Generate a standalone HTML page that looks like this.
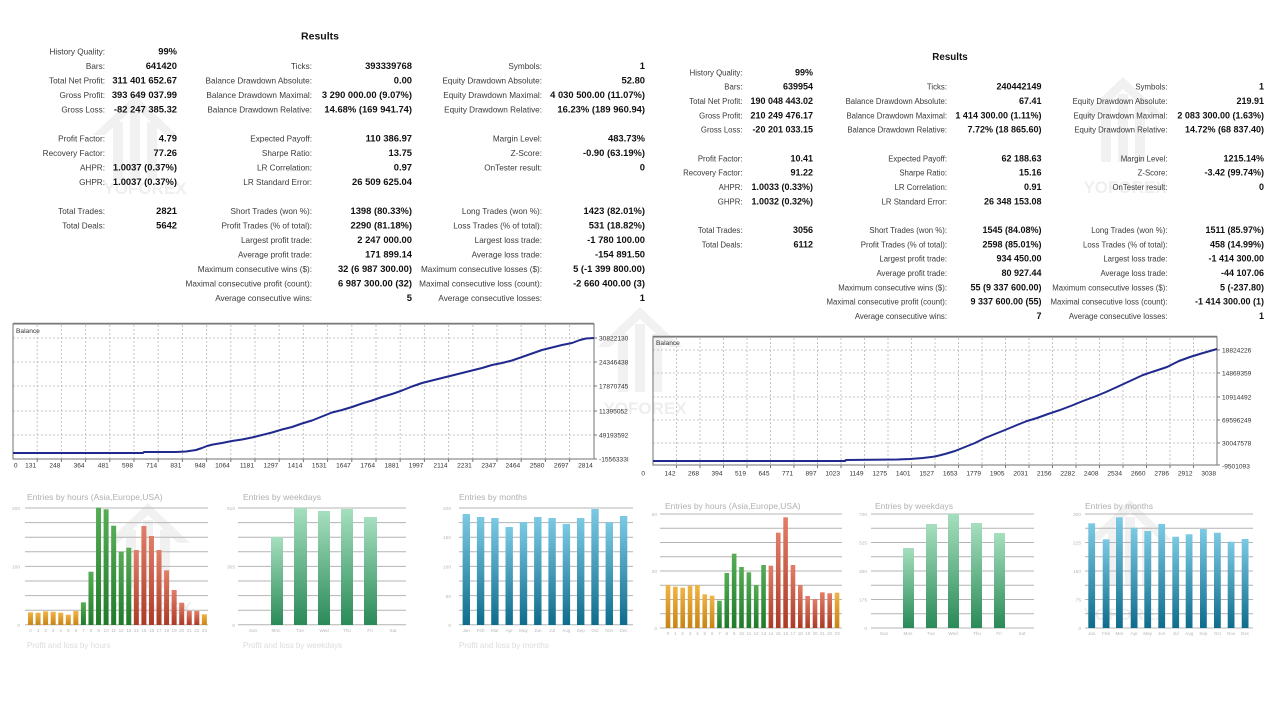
<!DOCTYPE html>
<html><head><meta charset="utf-8"><style>
html,body{margin:0;padding:0;background:#fff;}
svg{display:block;}
text{font-family:"Liberation Sans",Arial,sans-serif;}
.l{font-size:8.2px;fill:#3a3a3a;text-anchor:end;}
.v{font-size:9.4px;font-weight:bold;fill:#111;text-anchor:end;}
.l2{font-size:7.8px;fill:#3a3a3a;text-anchor:end;}
.v2{font-size:9px;font-weight:bold;fill:#111;text-anchor:end;}
.ttl{font-weight:bold;fill:#111;text-anchor:middle;}
.ax{font-size:6.6px;fill:#333;}
.axe{font-size:6.6px;fill:#333;text-anchor:end;}
.bt{font-size:8.5px;fill:#b0b0b0;}
.bl{font-size:4.6px;fill:#b8b8b8;text-anchor:middle;}
.by{font-size:4.8px;fill:#b8b8b8;text-anchor:end;}
.wm{font-size:17px;font-weight:bold;fill:#999;opacity:.16;text-anchor:middle;}
</style></head><body>
<svg width="1280" height="720" viewBox="0 0 1280 720" xmlns="http://www.w3.org/2000/svg">
<defs>
<linearGradient id="gOr" x1="0" y1="0" x2="0" y2="1"><stop offset="0" stop-color="#f0b445"/><stop offset="1" stop-color="#c88414"/></linearGradient>
<linearGradient id="gGr" x1="0" y1="0" x2="0" y2="1"><stop offset="0" stop-color="#56ad56"/><stop offset="1" stop-color="#1f7a2a"/></linearGradient>
<linearGradient id="gRd" x1="0" y1="0" x2="0" y2="1"><stop offset="0" stop-color="#e27e68"/><stop offset="1" stop-color="#ad3a26"/></linearGradient>
<linearGradient id="gWk" x1="0" y1="0" x2="0" y2="1"><stop offset="0" stop-color="#a6dfbf"/><stop offset="1" stop-color="#2a8a58"/></linearGradient>
<linearGradient id="gMo" x1="0" y1="0" x2="0" y2="1"><stop offset="0" stop-color="#7ccae4"/><stop offset="1" stop-color="#0e6c8c"/></linearGradient>
</defs>
<rect width="1280" height="720" fill="#fff"/>

<!-- watermarks -->
<g fill="#999" opacity=".14">
<g transform="translate(135,140)"><polygon points="0,-45 42,-5 30,-5 0,-33 -30,-5 -42,-5"/><rect x="-22" y="-18" width="10" height="58"/><rect x="-5" y="-28" width="10" height="68"/><rect x="12" y="-18" width="10" height="58"/></g>
<g transform="translate(640,352)"><polygon points="0,-45 42,-5 30,-5 0,-33 -30,-5 -42,-5"/><rect x="-22" y="-18" width="10" height="58"/><rect x="-5" y="-28" width="10" height="68"/><rect x="12" y="-18" width="10" height="58"/></g>
<g transform="translate(1123,122)"><polygon points="0,-45 42,-5 30,-5 0,-33 -30,-5 -42,-5"/><rect x="-22" y="-18" width="10" height="58"/><rect x="-5" y="-28" width="10" height="68"/><rect x="12" y="-18" width="10" height="58"/></g>
<g transform="translate(148,548)"><polygon points="0,-45 42,-5 30,-5 0,-33 -30,-5 -42,-5"/><rect x="-22" y="-18" width="10" height="58"/><rect x="-5" y="-28" width="10" height="68"/><rect x="12" y="-18" width="10" height="58"/></g>
<g transform="translate(1130,545)"><polygon points="0,-45 42,-5 30,-5 0,-33 -30,-5 -42,-5"/><rect x="-22" y="-18" width="10" height="58"/><rect x="-5" y="-28" width="10" height="68"/><rect x="12" y="-18" width="10" height="58"/></g>
</g>
<text class="wm" x="145" y="194">YOFOREX</text>
<text class="wm" x="645" y="414">YOFOREX</text>
<text class="wm" x="1125" y="193">YOFOREX</text>
<text class="wm" x="150" y="614">YOFOREX</text>
<text class="wm" x="1125" y="620">YOFOREX</text>

<!-- LEFT RESULTS -->
<text class="ttl" x="320" y="39.5" font-size="10.5">Results</text>
<text class="l" x="105" y="54.7">History Quality:</text><text class="v" x="177" y="54.7">99%</text>
<text class="l" x="105" y="69.2">Bars:</text><text class="v" x="177" y="69.2">641420</text>
<text class="l" x="105" y="83.7">Total Net Profit:</text><text class="v" x="177" y="83.7">311 401 652.67</text>
<text class="l" x="105" y="98.2">Gross Profit:</text><text class="v" x="177" y="98.2">393 649 037.99</text>
<text class="l" x="105" y="112.7">Gross Loss:</text><text class="v" x="177" y="112.7">-82 247 385.32</text>
<text class="l" x="105" y="141.7">Profit Factor:</text><text class="v" x="177" y="141.7">4.79</text>
<text class="l" x="105" y="156.2">Recovery Factor:</text><text class="v" x="177" y="156.2">77.26</text>
<text class="l" x="105" y="170.7">AHPR:</text><text class="v" x="177" y="170.7">1.0037 (0.37%)</text>
<text class="l" x="105" y="185.2">GHPR:</text><text class="v" x="177" y="185.2">1.0037 (0.37%)</text>
<text class="l" x="105" y="214.2">Total Trades:</text><text class="v" x="177" y="214.2">2821</text>
<text class="l" x="105" y="228.7">Total Deals:</text><text class="v" x="177" y="228.7">5642</text>

<text class="l" x="312" y="69.2">Ticks:</text><text class="v" x="412" y="69.2">393339768</text>
<text class="l" x="312" y="83.7">Balance Drawdown Absolute:</text><text class="v" x="412" y="83.7">0.00</text>
<text class="l" x="312" y="98.2">Balance Drawdown Maximal:</text><text class="v" x="412" y="98.2">3 290 000.00 (9.07%)</text>
<text class="l" x="312" y="112.7">Balance Drawdown Relative:</text><text class="v" x="412" y="112.7">14.68% (169 941.74)</text>
<text class="l" x="312" y="141.7">Expected Payoff:</text><text class="v" x="412" y="141.7">110 386.97</text>
<text class="l" x="312" y="156.2">Sharpe Ratio:</text><text class="v" x="412" y="156.2">13.75</text>
<text class="l" x="312" y="170.7">LR Correlation:</text><text class="v" x="412" y="170.7">0.97</text>
<text class="l" x="312" y="185.2">LR Standard Error:</text><text class="v" x="412" y="185.2">26 509 625.04</text>
<text class="l" x="312" y="214.2">Short Trades (won %):</text><text class="v" x="412" y="214.2">1398 (80.33%)</text>
<text class="l" x="312" y="228.7">Profit Trades (% of total):</text><text class="v" x="412" y="228.7">2290 (81.18%)</text>
<text class="l" x="312" y="243.2">Largest profit trade:</text><text class="v" x="412" y="243.2">2 247 000.00</text>
<text class="l" x="312" y="257.7">Average profit trade:</text><text class="v" x="412" y="257.7">171 899.14</text>
<text class="l" x="312" y="272.2">Maximum consecutive wins ($):</text><text class="v" x="412" y="272.2">32 (6 987 300.00)</text>
<text class="l" x="312" y="286.7">Maximal consecutive profit (count):</text><text class="v" x="412" y="286.7">6 987 300.00 (32)</text>
<text class="l" x="312" y="301.2">Average consecutive wins:</text><text class="v" x="412" y="301.2">5</text>

<text class="l" x="542" y="69.2">Symbols:</text><text class="v" x="645" y="69.2">1</text>
<text class="l" x="542" y="83.7">Equity Drawdown Absolute:</text><text class="v" x="645" y="83.7">52.80</text>
<text class="l" x="542" y="98.2">Equity Drawdown Maximal:</text><text class="v" x="645" y="98.2">4 030 500.00 (11.07%)</text>
<text class="l" x="542" y="112.7">Equity Drawdown Relative:</text><text class="v" x="645" y="112.7">16.23% (189 960.94)</text>
<text class="l" x="542" y="141.7">Margin Level:</text><text class="v" x="645" y="141.7">483.73%</text>
<text class="l" x="542" y="156.2">Z-Score:</text><text class="v" x="645" y="156.2">-0.90 (63.19%)</text>
<text class="l" x="542" y="170.7">OnTester result:</text><text class="v" x="645" y="170.7">0</text>
<text class="l" x="542" y="214.2">Long Trades (won %):</text><text class="v" x="645" y="214.2">1423 (82.01%)</text>
<text class="l" x="542" y="228.7">Loss Trades (% of total):</text><text class="v" x="645" y="228.7">531 (18.82%)</text>
<text class="l" x="542" y="243.2">Largest loss trade:</text><text class="v" x="645" y="243.2">-1 780 100.00</text>
<text class="l" x="542" y="257.7">Average loss trade:</text><text class="v" x="645" y="257.7">-154 891.50</text>
<text class="l" x="542" y="272.2">Maximum consecutive losses ($):</text><text class="v" x="645" y="272.2">5 (-1 399 800.00)</text>
<text class="l" x="542" y="286.7">Maximal consecutive loss (count):</text><text class="v" x="645" y="286.7">-2 660 400.00 (3)</text>
<text class="l" x="542" y="301.2">Average consecutive losses:</text><text class="v" x="645" y="301.2">1</text>

<!-- RIGHT RESULTS -->
<text class="ttl" x="950" y="60" font-size="9.8">Results</text>
<text class="l2" x="742.5" y="75.3">History Quality:</text><text class="v2" x="813" y="75.3">99%</text>
<text class="l2" x="742.5" y="89.6">Bars:</text><text class="v2" x="813" y="89.6">639954</text>
<text class="l2" x="742.5" y="104">Total Net Profit:</text><text class="v2" x="813" y="104">190 048 443.02</text>
<text class="l2" x="742.5" y="118.3">Gross Profit:</text><text class="v2" x="813" y="118.3">210 249 476.17</text>
<text class="l2" x="742.5" y="132.6">Gross Loss:</text><text class="v2" x="813" y="132.6">-20 201 033.15</text>
<text class="l2" x="742.5" y="161.3">Profit Factor:</text><text class="v2" x="813" y="161.3">10.41</text>
<text class="l2" x="742.5" y="175.6">Recovery Factor:</text><text class="v2" x="813" y="175.6">91.22</text>
<text class="l2" x="742.5" y="189.9">AHPR:</text><text class="v2" x="813" y="189.9">1.0033 (0.33%)</text>
<text class="l2" x="742.5" y="204.3">GHPR:</text><text class="v2" x="813" y="204.3">1.0032 (0.32%)</text>
<text class="l2" x="742.5" y="232.9">Total Trades:</text><text class="v2" x="813" y="232.9">3056</text>
<text class="l2" x="742.5" y="247.3">Total Deals:</text><text class="v2" x="813" y="247.3">6112</text>

<text class="l2" x="947" y="89.6">Ticks:</text><text class="v2" x="1041.5" y="89.6">240442149</text>
<text class="l2" x="947" y="104">Balance Drawdown Absolute:</text><text class="v2" x="1041.5" y="104">67.41</text>
<text class="l2" x="947" y="118.3">Balance Drawdown Maximal:</text><text class="v2" x="1041.5" y="118.3">1 414 300.00 (1.11%)</text>
<text class="l2" x="947" y="132.6">Balance Drawdown Relative:</text><text class="v2" x="1041.5" y="132.6">7.72% (18 865.60)</text>
<text class="l2" x="947" y="161.3">Expected Payoff:</text><text class="v2" x="1041.5" y="161.3">62 188.63</text>
<text class="l2" x="947" y="175.6">Sharpe Ratio:</text><text class="v2" x="1041.5" y="175.6">15.16</text>
<text class="l2" x="947" y="189.9">LR Correlation:</text><text class="v2" x="1041.5" y="189.9">0.91</text>
<text class="l2" x="947" y="204.3">LR Standard Error:</text><text class="v2" x="1041.5" y="204.3">26 348 153.08</text>
<text class="l2" x="947" y="232.9">Short Trades (won %):</text><text class="v2" x="1041.5" y="232.9">1545 (84.08%)</text>
<text class="l2" x="947" y="247.3">Profit Trades (% of total):</text><text class="v2" x="1041.5" y="247.3">2598 (85.01%)</text>
<text class="l2" x="947" y="261.6">Largest profit trade:</text><text class="v2" x="1041.5" y="261.6">934 450.00</text>
<text class="l2" x="947" y="275.9">Average profit trade:</text><text class="v2" x="1041.5" y="275.9">80 927.44</text>
<text class="l2" x="947" y="290.3">Maximum consecutive wins ($):</text><text class="v2" x="1041.5" y="290.3">55 (9 337 600.00)</text>
<text class="l2" x="947" y="304.6">Maximal consecutive profit (count):</text><text class="v2" x="1041.5" y="304.6">9 337 600.00 (55)</text>
<text class="l2" x="947" y="318.9">Average consecutive wins:</text><text class="v2" x="1041.5" y="318.9">7</text>

<text class="l2" x="1167.5" y="89.6">Symbols:</text><text class="v2" x="1264" y="89.6">1</text>
<text class="l2" x="1167.5" y="104">Equity Drawdown Absolute:</text><text class="v2" x="1264" y="104">219.91</text>
<text class="l2" x="1167.5" y="118.3">Equity Drawdown Maximal:</text><text class="v2" x="1264" y="118.3">2 083 300.00 (1.63%)</text>
<text class="l2" x="1167.5" y="132.6">Equity Drawdown Relative:</text><text class="v2" x="1264" y="132.6">14.72% (68 837.40)</text>
<text class="l2" x="1167.5" y="161.3">Margin Level:</text><text class="v2" x="1264" y="161.3">1215.14%</text>
<text class="l2" x="1167.5" y="175.6">Z-Score:</text><text class="v2" x="1264" y="175.6">-3.42 (99.74%)</text>
<text class="l2" x="1167.5" y="189.9">OnTester result:</text><text class="v2" x="1264" y="189.9">0</text>
<text class="l2" x="1167.5" y="232.9">Long Trades (won %):</text><text class="v2" x="1264" y="232.9">1511 (85.97%)</text>
<text class="l2" x="1167.5" y="247.3">Loss Trades (% of total):</text><text class="v2" x="1264" y="247.3">458 (14.99%)</text>
<text class="l2" x="1167.5" y="261.6">Largest loss trade:</text><text class="v2" x="1264" y="261.6">-1 414 300.00</text>
<text class="l2" x="1167.5" y="275.9">Average loss trade:</text><text class="v2" x="1264" y="275.9">-44 107.06</text>
<text class="l2" x="1167.5" y="290.3">Maximum consecutive losses ($):</text><text class="v2" x="1264" y="290.3">5 (-237.80)</text>
<text class="l2" x="1167.5" y="304.6">Maximal consecutive loss (count):</text><text class="v2" x="1264" y="304.6">-1 414 300.00 (1)</text>
<text class="l2" x="1167.5" y="318.9">Average consecutive losses:</text><text class="v2" x="1264" y="318.9">1</text>

<!-- LEFT BALANCE CHART -->
<g>
<path d="M13 338H594M13 362H594M13 386H594M13 411H594M13 435H594" stroke="#c4c4c4" stroke-width="1" stroke-dasharray="2,2" fill="none"/>
<path d="M37.2 325V459M61.4 325V459M85.6 325V459M109.8 325V459M134 325V459M158.2 325V459M182.4 325V459M206.6 325V459M230.8 325V459M255 325V459M279.2 325V459M303.4 325V459M327.6 325V459M351.8 325V459M376 325V459M400.2 325V459M424.4 325V459M448.6 325V459M472.8 325V459M497 325V459M521.2 325V459M545.4 325V459M569.6 325V459" stroke="#c4c4c4" stroke-width="1" stroke-dasharray="2,2" fill="none"/>
<rect x="13" y="324" width="581" height="135" fill="none" stroke="#8a8a8a" stroke-width="1.2"/>
<line x1="13" y1="323.5" x2="594" y2="323.5" stroke="#7a7a7a" stroke-width="1.5"/>
<path d="M37.2 459v3M61.4 459v3M85.6 459v3M109.8 459v3M134 459v3M158.2 459v3M182.4 459v3M206.6 459v3M230.8 459v3M255 459v3M279.2 459v3M303.4 459v3M327.6 459v3M351.8 459v3M376 459v3M400.2 459v3M424.4 459v3M448.6 459v3M472.8 459v3M497 459v3M521.2 459v3M545.4 459v3M569.6 459v3M594 338h3M594 362h3M594 386h3M594 411h3M594 435h3M594 459h3" stroke="#777" stroke-width="1"/>
<polyline fill="none" stroke="#202a8e" stroke-width="2" stroke-linejoin="round" points="13,453 143,453 144,452 176,452 186,451.5 196,450 202,448 207,446 213,444.5 222,443 232,441 242,439.5 252,437.5 262,435 272,432.5 282,429.5 292,427 302,423.5 312,420.5 322,416.5 332,412.5 342,410 352,407 362,403.5 372,400.5 382,397 392,394 402,390.5 412,386.5 422,383 432,380.5 442,378 452,375.5 462,373 472,370.5 482,368 492,365 502,363 512,360.5 522,357 532,353.5 542,350 552,347.5 562,345 572,343 580,340 586,338.5 594,338"/>
<text class="ax" x="16" y="333" font-size="6.2">Balance</text>
<text class="ax" x="599" y="340.5">30822130</text>
<text class="ax" x="599" y="364.5">24346438</text>
<text class="ax" x="599" y="388.5">17870745</text>
<text class="ax" x="599" y="413.5">11395052</text>
<text class="ax" x="599" y="437.5">49193592</text>
<text class="ax" x="599" y="461.5">-1556333I</text>
<text class="axe" y="467.5"><tspan x="17.5">0</tspan><tspan x="36.2">131</tspan><tspan x="60.4">248</tspan><tspan x="84.6">364</tspan><tspan x="108.8">481</tspan><tspan x="133">598</tspan><tspan x="157.2">714</tspan><tspan x="181.4">831</tspan><tspan x="205.6">948</tspan><tspan x="229.8">1064</tspan><tspan x="254">1181</tspan><tspan x="278.2">1297</tspan><tspan x="302.4">1414</tspan><tspan x="326.6">1531</tspan><tspan x="350.8">1647</tspan><tspan x="375">1764</tspan><tspan x="399.2">1881</tspan><tspan x="423.4">1997</tspan><tspan x="447.6">2114</tspan><tspan x="471.8">2231</tspan><tspan x="496">2347</tspan><tspan x="520.2">2464</tspan><tspan x="544.4">2580</tspan><tspan x="568.6">2697</tspan><tspan x="592.8">2814</tspan></text>
</g>

<!-- RIGHT BALANCE CHART -->
<g>
<path d="M653 350H1217M653 373H1217M653 397H1217M653 420H1217M653 443H1217" stroke="#c4c4c4" stroke-width="1" stroke-dasharray="2,2" fill="none"/>
<path d="M676.5 338V465M700 338V465M723.5 338V465M747 338V465M770.5 338V465M794 338V465M817.5 338V465M841 338V465M864.5 338V465M888 338V465M911.5 338V465M935 338V465M958.5 338V465M982 338V465M1005.5 338V465M1029 338V465M1052.5 338V465M1076 338V465M1099.5 338V465M1123 338V465M1146.5 338V465M1170 338V465M1193.5 338V465" stroke="#c4c4c4" stroke-width="1" stroke-dasharray="2,2" fill="none"/>
<rect x="653" y="337" width="564" height="128" fill="none" stroke="#8a8a8a" stroke-width="1.2"/>
<line x1="653" y1="336.5" x2="1217" y2="336.5" stroke="#7a7a7a" stroke-width="1.5"/>
<path d="M676.5 465v3M700 465v3M723.5 465v3M747 465v3M770.5 465v3M794 465v3M817.5 465v3M841 465v3M864.5 465v3M888 465v3M911.5 465v3M935 465v3M958.5 465v3M982 465v3M1005.5 465v3M1029 465v3M1052.5 465v3M1076 465v3M1099.5 465v3M1123 465v3M1146.5 465v3M1170 465v3M1193.5 465v3M1217 350h3M1217 373h3M1217 397h3M1217 420h3M1217 443h3M1217 465h3" stroke="#777" stroke-width="1"/>
<polyline fill="none" stroke="#202a8e" stroke-width="2" stroke-linejoin="round" points="653,461 845,461 846,460 897,459.5 910,459 923,458 935,456.5 945,454 955,451 965,447 975,443 985,438 995,434 1005,430 1017,425 1027,421 1037,418 1048,414 1060,410 1072,405.5 1083,401 1095,396.5 1106,392 1117,387 1130,381 1143,375 1155,371 1167,367 1179,361 1190,357 1203,353 1217,349"/>
<text class="ax" x="656" y="345" font-size="6.2">Balance</text>
<text class="ax" x="1222" y="352.5">18824226</text>
<text class="ax" x="1222" y="375.5">14869359</text>
<text class="ax" x="1222" y="399.5">10914492</text>
<text class="ax" x="1222" y="422.5">69596249</text>
<text class="ax" x="1222" y="445.5">30047578</text>
<text class="ax" x="1222" y="468.5">-9501093</text>
<text class="axe" y="475.5"><tspan x="645">0</tspan><tspan x="675.5">142</tspan><tspan x="699">268</tspan><tspan x="722.5">394</tspan><tspan x="746">519</tspan><tspan x="769.5">645</tspan><tspan x="793">771</tspan><tspan x="816.5">897</tspan><tspan x="840">1023</tspan><tspan x="863.5">1149</tspan><tspan x="887">1275</tspan><tspan x="910.5">1401</tspan><tspan x="934">1527</tspan><tspan x="957.5">1653</tspan><tspan x="981">1779</tspan><tspan x="1004.5">1905</tspan><tspan x="1028">2031</tspan><tspan x="1051.5">2156</tspan><tspan x="1075">2282</tspan><tspan x="1098.5">2408</tspan><tspan x="1122">2534</tspan><tspan x="1145.5">2660</tspan><tspan x="1169">2786</tspan><tspan x="1192.5">2912</tspan><tspan x="1216">3038</tspan></text>
</g>

<!-- LEFT BAR CHARTS grid -->
<path d="M25 508H208M25 522.6H208M25 537.2H208M25 551.8H208M25 566.4H208M25 581H208M25 595.6H208M25 610.2H208M25 624.8H208
M238 508H406M238 522.6H406M238 537.2H406M238 551.8H406M238 566.4H406M238 581H406M238 595.6H406M238 610.2H406M238 624.8H406
M459 508H633M459 522.6H633M459 537.2H633M459 551.8H633M459 566.4H633M459 581H633M459 595.6H633M459 610.2H633M459 624.8H633" stroke="#b4b4b4" stroke-width="1" fill="none"/>
<text class="bt" x="27" y="500">Entries by hours (Asia,Europe,USA)</text>
<text class="bt" x="243" y="500">Entries by weekdays</text>
<text class="bt" x="459" y="500">Entries by months</text>
<text class="by" x="20" y="510">200</text><text class="by" x="20" y="568.5">100</text><text class="by" x="20" y="627">0</text>
<text class="by" x="235" y="510">610</text><text class="by" x="235" y="568.5">305</text><text class="by" x="235" y="627">0</text>
<text class="by" x="451" y="510">200</text><text class="by" x="451" y="539">150</text><text class="by" x="451" y="568.5">100</text><text class="by" x="451" y="598">50</text><text class="by" x="451" y="627">0</text>

<!-- left hours bars -->
<g fill="url(#gOr)">
<rect x="28" y="612.3" width="5" height="12.7"/><rect x="35.56" y="612.7" width="5" height="12.3"/><rect x="43.12" y="611.3" width="5" height="13.7"/><rect x="50.68" y="611.7" width="5" height="13.3"/><rect x="58.24" y="612.7" width="5" height="12.3"/><rect x="65.8" y="614.7" width="5" height="10.3"/><rect x="73.36" y="611" width="5" height="14"/><rect x="201.88" y="614.3" width="5" height="10.7"/>
</g>
<g fill="url(#gGr)">
<rect x="80.92" y="602.3" width="5" height="22.7"/><rect x="88.48" y="571.7" width="5" height="53.3"/><rect x="96.04" y="507.7" width="5" height="117.3"/><rect x="103.6" y="509.3" width="5" height="115.7"/><rect x="111.16" y="525.7" width="5" height="99.3"/><rect x="118.72" y="551.7" width="5" height="73.3"/><rect x="126.28" y="547.7" width="5" height="77.3"/>
</g>
<g fill="url(#gRd)">
<rect x="133.84" y="550" width="5" height="75"/><rect x="141.4" y="526" width="5" height="99"/><rect x="148.96" y="536" width="5" height="89"/><rect x="156.52" y="550" width="5" height="75"/><rect x="164.08" y="570.3" width="5" height="54.7"/><rect x="171.64" y="590" width="5" height="35"/><rect x="179.2" y="602.7" width="5" height="22.3"/><rect x="186.76" y="611" width="5" height="14"/><rect x="194.32" y="611" width="5" height="14"/>
</g>
<text class="bl" y="632"><tspan x="30.5">0</tspan><tspan x="38.1">1</tspan><tspan x="45.6">2</tspan><tspan x="53.2">3</tspan><tspan x="60.7">4</tspan><tspan x="68.3">5</tspan><tspan x="75.9">6</tspan><tspan x="83.4">7</tspan><tspan x="91">8</tspan><tspan x="98.5">9</tspan><tspan x="106.1">10</tspan><tspan x="113.7">11</tspan><tspan x="121.2">12</tspan><tspan x="128.8">13</tspan><tspan x="136.3">14</tspan><tspan x="143.9">15</tspan><tspan x="151.5">16</tspan><tspan x="159">17</tspan><tspan x="166.6">18</tspan><tspan x="174.1">19</tspan><tspan x="181.7">20</tspan><tspan x="189.3">21</tspan><tspan x="196.8">22</tspan><tspan x="204.4">23</tspan></text>

<!-- left weekday bars -->
<g fill="url(#gWk)">
<rect x="271" y="537" width="12" height="88"/><rect x="294" y="508" width="13" height="117"/><rect x="318" y="511" width="12" height="114"/><rect x="341" y="509" width="12" height="116"/><rect x="364" y="517" width="13" height="108"/>
</g>
<text class="bl" y="632"><tspan x="253">Sun</tspan><tspan x="276">Mon</tspan><tspan x="300">Tue</tspan><tspan x="324">Wed</tspan><tspan x="347">Thu</tspan><tspan x="370">Fri</tspan><tspan x="393">Sat</tspan></text>

<!-- left month bars -->
<g fill="url(#gMo)">
<rect x="462.6" y="514" width="7.4" height="111"/><rect x="476.9" y="517" width="7.4" height="108"/><rect x="491.2" y="518" width="7.4" height="107"/><rect x="505.5" y="527" width="7.4" height="98"/><rect x="519.8" y="522" width="7.4" height="103"/><rect x="534.1" y="517" width="7.4" height="108"/><rect x="548.4" y="518" width="7.4" height="107"/><rect x="562.7" y="524" width="7.4" height="101"/><rect x="577" y="518" width="7.4" height="107"/><rect x="591.3" y="509" width="7.4" height="116"/><rect x="605.6" y="522" width="7.4" height="103"/><rect x="619.9" y="516" width="7.4" height="109"/>
</g>
<text class="bl" y="632"><tspan x="466.3">Jan</tspan><tspan x="480.6">Feb</tspan><tspan x="494.9">Mar</tspan><tspan x="509.2">Apr</tspan><tspan x="523.5">May</tspan><tspan x="537.8">Jun</tspan><tspan x="552.1">Jul</tspan><tspan x="566.4">Aug</tspan><tspan x="580.7">Sep</tspan><tspan x="595">Oct</tspan><tspan x="609.3">Nov</tspan><tspan x="623.6">Dec</tspan></text>

<text x="27" y="648" font-size="8" fill="#dcdcdc">Profit and loss by hours</text>
<text x="243" y="648" font-size="8" fill="#dcdcdc">Profit and loss by weekdays</text>
<text x="459" y="648" font-size="8" fill="#dcdcdc">Profit and loss by months</text>

<!-- RIGHT BAR CHARTS grid -->
<path d="M660 514H842M660 528.25H842M660 542.5H842M660 556.75H842M660 571H842M660 585.25H842M660 599.5H842M660 613.75H842M660 628H842
M871 514H1034M871 528.25H1034M871 542.5H1034M871 556.75H1034M871 571H1034M871 585.25H1034M871 599.5H1034M871 613.75H1034M871 628H1034
M1085 514H1253M1085 528.25H1253M1085 542.5H1253M1085 556.75H1253M1085 571H1253M1085 585.25H1253M1085 599.5H1253M1085 613.75H1253M1085 628H1253" stroke="#b4b4b4" stroke-width="1" fill="none"/>
<text class="bt" x="665" y="509">Entries by hours (Asia,Europe,USA)</text>
<text class="bt" x="875" y="509">Entries by weekdays</text>
<text class="bt" x="1085" y="509">Entries by months</text>
<text class="by" x="657" y="516">60</text><text class="by" x="657" y="573">30</text><text class="by" x="657" y="630">0</text>
<text class="by" x="867" y="516">700</text><text class="by" x="867" y="544.5">525</text><text class="by" x="867" y="573">350</text><text class="by" x="867" y="601.5">175</text><text class="by" x="867" y="630">0</text>
<text class="by" x="1081" y="516">300</text><text class="by" x="1081" y="544.5">225</text><text class="by" x="1081" y="573">150</text><text class="by" x="1081" y="601.5">75</text><text class="by" x="1081" y="630">0</text>

<!-- right hours bars -->
<g fill="url(#gOr)">
<rect x="665.7" y="585" width="4.6" height="43"/><rect x="673.05" y="586.7" width="4.6" height="41.3"/><rect x="680.4" y="587.7" width="4.6" height="40.3"/><rect x="687.75" y="585.7" width="4.6" height="42.3"/><rect x="695.1" y="585" width="4.6" height="43"/><rect x="702.45" y="594.3" width="4.6" height="33.7"/><rect x="709.8" y="595.7" width="4.6" height="32.3"/><rect x="834.75" y="592.7" width="4.6" height="35.3"/>
</g>
<g fill="url(#gGr)">
<rect x="717.15" y="600.7" width="4.6" height="27.3"/><rect x="724.5" y="573" width="4.6" height="55"/><rect x="731.85" y="553.7" width="4.6" height="74.3"/><rect x="739.2" y="567" width="4.6" height="61"/><rect x="746.55" y="572.3" width="4.6" height="55.7"/><rect x="753.9" y="585" width="4.6" height="43"/><rect x="761.25" y="565" width="4.6" height="63"/>
</g>
<g fill="url(#gRd)">
<rect x="768.6" y="565.7" width="4.6" height="62.3"/><rect x="775.95" y="532.7" width="4.6" height="95.3"/><rect x="783.3" y="517.3" width="4.6" height="110.7"/><rect x="790.65" y="565" width="4.6" height="63"/><rect x="798" y="585" width="4.6" height="43"/><rect x="805.35" y="596" width="4.6" height="32"/><rect x="812.7" y="599" width="4.6" height="29"/><rect x="820.05" y="592.3" width="4.6" height="35.7"/><rect x="827.4" y="593.3" width="4.6" height="34.7"/>
</g>
<text class="bl" y="635"><tspan x="668">0</tspan><tspan x="675.4">1</tspan><tspan x="682.7">2</tspan><tspan x="690.1">3</tspan><tspan x="697.4">4</tspan><tspan x="704.8">5</tspan><tspan x="712.1">6</tspan><tspan x="719.5">7</tspan><tspan x="726.8">8</tspan><tspan x="734.2">9</tspan><tspan x="741.5">10</tspan><tspan x="748.9">11</tspan><tspan x="756.2">12</tspan><tspan x="763.6">13</tspan><tspan x="770.9">14</tspan><tspan x="778.3">15</tspan><tspan x="785.6">16</tspan><tspan x="793">17</tspan><tspan x="800.3">18</tspan><tspan x="807.7">19</tspan><tspan x="815">20</tspan><tspan x="822.4">21</tspan><tspan x="829.7">22</tspan><tspan x="837.1">23</tspan></text>

<!-- right weekday bars -->
<g fill="url(#gWk)">
<rect x="903" y="548" width="11" height="80"/><rect x="926" y="524" width="11" height="104"/><rect x="948" y="514" width="11" height="114"/><rect x="971" y="523" width="11" height="105"/><rect x="994" y="533" width="11" height="95"/>
</g>
<text class="bl" y="635"><tspan x="884">Sun</tspan><tspan x="908">Mon</tspan><tspan x="931">Tue</tspan><tspan x="953">Wed</tspan><tspan x="977">Thu</tspan><tspan x="999">Fri</tspan><tspan x="1022">Sat</tspan></text>

<!-- right month bars -->
<g fill="url(#gMo)">
<rect x="1088.3" y="523.3" width="6.8" height="104.7"/><rect x="1102.7" y="539.3" width="6.8" height="88.7"/><rect x="1116" y="517.3" width="6.8" height="110.7"/><rect x="1130.7" y="527.7" width="6.8" height="100.3"/><rect x="1144.3" y="531" width="6.8" height="97"/><rect x="1158.3" y="524" width="6.8" height="104"/><rect x="1172.3" y="536.7" width="6.8" height="91.3"/><rect x="1185.7" y="534.3" width="6.8" height="93.7"/><rect x="1200" y="529" width="6.8" height="99"/><rect x="1214" y="532.7" width="6.8" height="95.3"/><rect x="1227.7" y="541.7" width="6.8" height="86.3"/><rect x="1241.7" y="539" width="6.8" height="89"/>
</g>
<text class="bl" y="635"><tspan x="1091.7">Jan</tspan><tspan x="1106.1">Feb</tspan><tspan x="1119.4">Mar</tspan><tspan x="1134.1">Apr</tspan><tspan x="1147.7">May</tspan><tspan x="1161.7">Jun</tspan><tspan x="1175.7">Jul</tspan><tspan x="1189.1">Aug</tspan><tspan x="1203.4">Sep</tspan><tspan x="1217.4">Oct</tspan><tspan x="1231.1">Nov</tspan><tspan x="1245.1">Dec</tspan></text>
</svg>
</body></html>
